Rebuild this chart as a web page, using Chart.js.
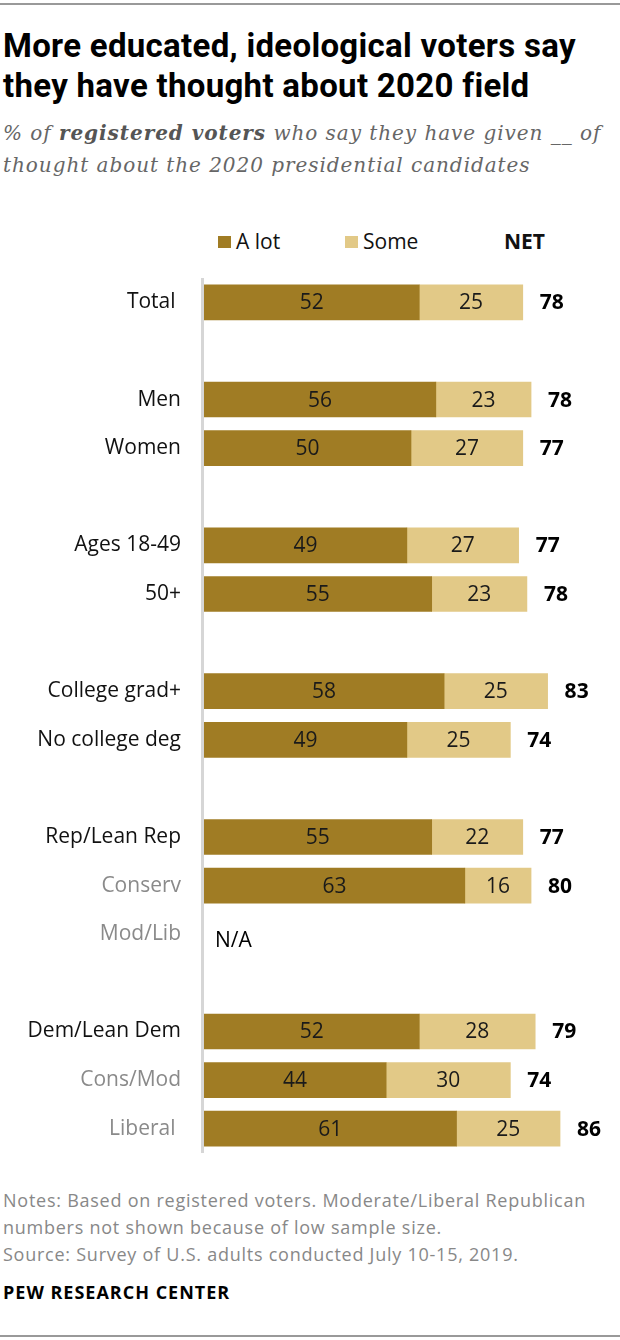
<!DOCTYPE html>
<html lang="en">
<head>
  <meta charset="UTF-8" />
  <title>More educated, ideological voters say they have thought about 2020 field</title>
  <script src="https://cdn.jsdelivr.net/npm/chart.js@4.4.1/dist/chart.umd.min.js"></script>
  <style>
    body { margin: 0; background: #fff; font-family: 'Open Sans', sans-serif; color: #000; }
    .page { position: relative; width: 620px; height: 1340px; overflow: hidden; }
    .rule { position: absolute; left: 0; width: 620px; height: 2px; background: #999; }
    h1 {
      position: absolute; left: 3px; top: 26px; margin: 0;
      font-family: Roboto, sans-serif;
      font-size: 33px; line-height: 40px; font-weight: 700; letter-spacing: 0.3px;
    }
    .sub {
      position: absolute; left: 3px; top: 117px; margin: 0;
      font-family: 'DejaVu Serif', serif; font-style: italic;
      font-size: 20px; line-height: 32px; color: #666; letter-spacing: 0.95px;
    }
    .sub b { color: #555; }
    .sw { position: absolute; top: 236px; width: 13px; height: 12px; }
    .lg { position: absolute; top: 231px; font-size: 21px; line-height: 21px; color: #111; }
    .chart-box { position: absolute; left: 0; top: 258px; width: 620px; height: 915px; }
    .notes {
      position: absolute; left: 3px; top: 1187px; white-space: nowrap;
      font-size: 18px; line-height: 27px; color: #888; letter-spacing: 0.75px;
    }
    .brand {
      position: absolute; left: 3px; top: 1279px;
      font-size: 18px; line-height: 27px; font-weight: 700; letter-spacing: 1px;
    }
  </style>
</head>
<body>
  <div class="page">
    <div class="rule" style="top:3px"></div>

    <h1>More educated, ideological voters say<br>they have thought about 2020 field</h1>
    <p class="sub">% of <b>registered voters</b> who say they have given __ of<br>thought about the 2020 presidential candidates</p>

    <!-- Legend -->
    <div class="sw" style="left:218px; background:#A07C24"></div>
    <div class="lg" style="left:236px">A lot</div>
    <div class="sw" style="left:345px; background:#E2C987"></div>
    <div class="lg" style="left:363px">Some</div>
    <div class="lg" style="left:504px; font-weight:700">NET</div>

    <div class="chart-box"><canvas id="chart"></canvas></div>

    <div class="notes">Notes: Based on registered voters. Moderate/Liberal Republican<br>numbers not shown because of low sample size.<br>Source: Survey of U.S. adults conducted July 10-15, 2019.</div>
    <div class="brand">PEW RESEARCH CENTER</div>

    <div class="rule" style="top:1335px"></div>
  </div>

  <script>
    // Rows ('' = spacer between groups)
    const categories = ['Total ', '', 'Men', 'Women', '', 'Ages 18-49', '50+', '',
      'College grad+', 'No college deg', '', 'Rep/Lean Rep', 'Conserv', 'Mod/Lib', '',
      'Dem/Lean Dem', 'Cons/Mod', 'Liberal '];
    const aLot = [52, null, 56, 50, null, 49, 55, null, 58, 49, null, 55, 63, null, null, 52, 44, 61];
    const some = [25, null, 23, 27, null, 27, 23, null, 25, 25, null, 22, 16, null, null, 28, 30, 25];
    const net  = [78, null, 78, 77, null, 77, 78, null, 83, 74, null, 77, 80, null, null, 79, 74, 86];
    const subgroups = ['Conserv', 'Mod/Lib', 'Cons/Mod', 'Liberal'];
    const notShown = ['Mod/Lib'];

    const FONT = "'Open Sans'";

    const barLabels = {
      id: 'barLabels',
      beforeDatasetsDraw(chart) {
        // light vertical baseline on the left of the bars
        const { ctx, chartArea } = chart;
        ctx.save();
        ctx.fillStyle = '#d6d6d6';
        ctx.fillRect(chartArea.left - 3, chartArea.top, 3, chartArea.bottom - chartArea.top);
        ctx.restore();
      },
      afterDatasetsDraw(chart) {
        const { ctx, chartArea } = chart;
        ctx.save();
        ctx.textBaseline = 'middle';

        // segment values
        ctx.font = `21px ${FONT}`;
        ctx.textAlign = 'center';
        ctx.fillStyle = '#1a1a1a';
        chart.data.datasets.forEach((ds, i) => {
          chart.getDatasetMeta(i).data.forEach((bar, j) => {
            if (ds.data[j] == null) return;
            ctx.fillText(ds.data[j], (bar.x + bar.base) / 2, bar.y + 1);
          });
        });

        // NET column
        const ends = chart.getDatasetMeta(1).data;
        ctx.font = `bold 21px ${FONT}`;
        ctx.textAlign = 'left';
        ctx.fillStyle = '#000';
        net.forEach((v, j) => {
          if (v == null) return;
          ctx.fillText(v, ends[j].x + 17, ends[j].y + 1);
        });

        // rows with no data
        ctx.font = `21px ${FONT}`;
        notShown.forEach(name => {
          const y = chart.scales.y.getPixelForValue(categories.indexOf(name));
          ctx.fillText('N/A', chartArea.left + 11, y + 7);
        });
        ctx.restore();
      }
    };

    new Chart(document.getElementById('chart'), {
      type: 'bar',
      data: {
        labels: categories,
        datasets: [
          { label: 'A lot', data: aLot, backgroundColor: '#A07C24' },
          { label: 'Some', data: some, backgroundColor: '#E2C987' }
        ]
      },
      options: {
        indexAxis: 'y',
        responsive: true,
        maintainAspectRatio: false,
        animation: false,
        layout: { padding: { top: 20, bottom: 20, right: 2 } },
        datasets: { bar: { barThickness: 35, borderWidth: 0 } },
        plugins: { legend: { display: false }, tooltip: { enabled: false } },
        scales: {
          x: { stacked: true, min: 0, max: 100, display: false },
          y: {
            stacked: true,
            grid: { display: false, drawTicks: true, tickLength: 23 },
            border: { display: false },
            afterFit(scale) { scale.width = 204; },
            ticks: {
              autoSkip: false,
              padding: 0,
              font: { family: 'Open Sans', size: 21 },
              color: ctx => subgroups.includes(String(categories[ctx.index]).trim()) ? '#8a8a8a' : '#111'
            }
          }
        }
      },
      plugins: [barLabels]
    });
  </script>
</body>
</html>
